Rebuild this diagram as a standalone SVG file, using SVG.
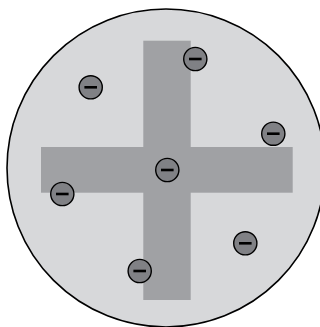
<svg xmlns="http://www.w3.org/2000/svg" width="320" height="327" viewBox="0 0 320 327">
<style>
.eb{fill:#808185;stroke:#000;stroke-width:1.4}
.em{stroke:#000;stroke-width:2.6}
</style>
<defs>
<g id="m"><circle class="eb" cx="0" cy="0" r="11.6"/><line class="em" x1="-6.3" y1="0" x2="6.3" y2="0"/></g>
</defs>
<g id="disc"><circle cx="166" cy="168" r="159" fill="#d7d8da" stroke="#000" stroke-width="1.6"/></g>
<g id="cross" fill="#a0a1a4">
<rect x="143.3" y="40.7" width="47.4" height="259.3"/>
<rect x="41" y="147" width="251.7" height="45.7"/>
</g>
<g id="electrons">
<g id="e1"><use href="#m" x="90.7" y="87.3"/></g>
<g id="e2"><use href="#m" x="195.3" y="59"/></g>
<g id="e3"><use href="#m" x="273.3" y="133.7"/></g>
<g id="e4"><use href="#m" x="167.3" y="170"/></g>
<g id="e5"><use href="#m" x="62.3" y="194"/></g>
<g id="e6"><use href="#m" x="245.3" y="243.3"/></g>
<g id="e7"><use href="#m" x="139.7" y="271"/></g>
</g>
<g id="connectors"/>
</svg>
